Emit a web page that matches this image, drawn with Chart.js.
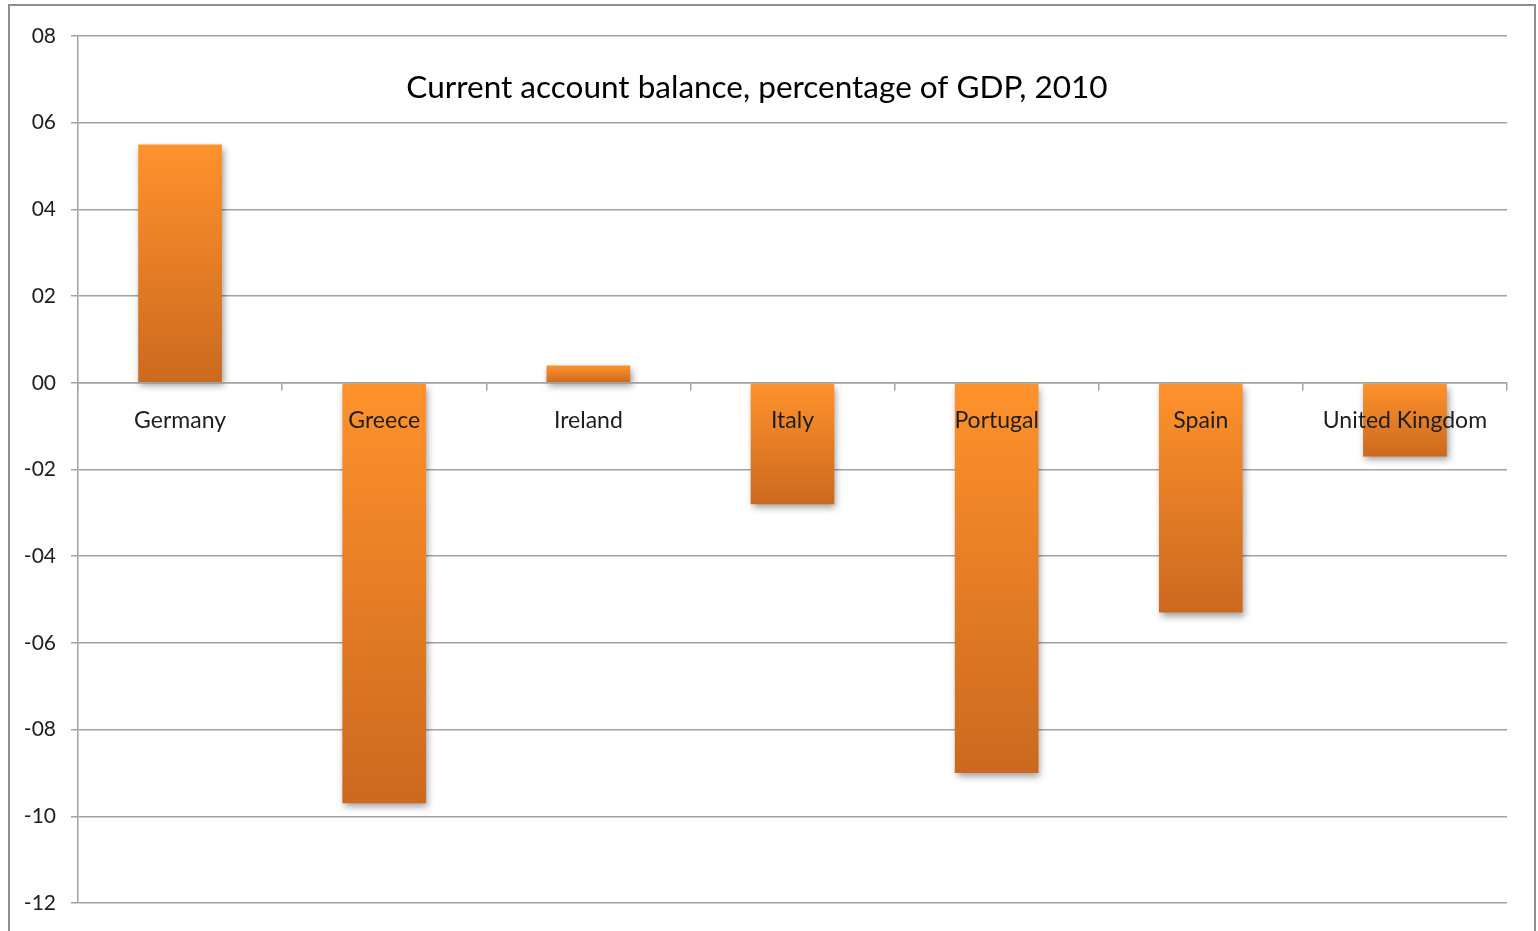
<!DOCTYPE html>
<html>
<head>
<meta charset="utf-8">
<script src="https://cdn.jsdelivr.net/npm/chart.js@4.4.1/dist/chart.umd.min.js"></script>
<style>
  html, body { margin: 0; padding: 0; background: #fff; }
  #wrap { width: 1538px; height: 931px; }
</style>
</head>
<body>
<div id="wrap"><canvas id="chartSaldo"></canvas></div>
<script>
const paises = ['Germany', 'Greece', 'Ireland', 'Italy', 'Portugal', 'Spain', 'United Kingdom'];
const saldoPib = [5.5, -9.7, 0.4, -2.8, -9.0, -5.3, -1.7];
const eixoMin = -12;
const eixoMax = 8;
const eixoPasso = 2;

const titulo = 'Current account balance, percentage of GDP, 2010';
const fonte = 'Lato, "Open Sans", sans-serif';
const cinza = '#a2a2a2';

// "08", "00", "-02" ...
const fmtEixo = v => (v < 0 ? '-' : '') + String(Math.abs(v)).padStart(2, '0');

// gradiente vertical em cada barra, claro em cima e escuro embaixo
function corBarra(c) {
  const chart = c.chart;
  if (c.type !== 'data' || !chart.chartArea) return '#ef8a2c';
  const y = chart.scales.y;
  const v = c.raw;
  const y0 = y.getPixelForValue(Math.max(v, 0));
  const y1 = y.getPixelForValue(Math.min(v, 0));
  const g = chart.ctx.createLinearGradient(0, y0, 0, y1);
  g.addColorStop(0, '#ff922c');
  g.addColorStop(1, '#cb691f');
  return g;
}

const moldura = {
  id: 'moldura',
  beforeDraw(chart) {
    const ctx = chart.ctx;
    ctx.save();
    ctx.fillStyle = '#fff';
    ctx.fillRect(0, 0, chart.width, chart.height);
    ctx.strokeStyle = '#8e8e8e';
    ctx.lineWidth = 2;
    ctx.strokeRect(9, 5, 1526, 960);
    ctx.restore();
  },
  afterDraw(chart) {
    const ctx = chart.ctx;
    ctx.save();
    ctx.fillStyle = '#000';
    ctx.font = '31.5px ' + fonte;
    ctx.textAlign = 'center';
    ctx.textBaseline = 'alphabetic';
    ctx.fillText(titulo, 757, 98);
    ctx.restore();
  }
};

const sombra = {
  id: 'sombra',
  beforeDatasetsDraw(chart) {
    const ctx = chart.ctx;
    ctx.save();
    ctx.shadowColor = 'rgba(0,0,0,0.38)';
    ctx.shadowBlur = 7;
    ctx.shadowOffsetX = 2;
    ctx.shadowOffsetY = 4;
  },
  afterDatasetsDraw(chart) {
    chart.ctx.restore();
  }
};

new Chart(document.getElementById('chartSaldo'), {
  type: 'bar',
  data: {
    labels: paises,
    datasets: [{
      data: saldoPib,
      backgroundColor: corBarra,
      borderWidth: 0,
      barPercentage: 0.41,
      categoryPercentage: 1
    }]
  },
  options: {
    responsive: true,
    maintainAspectRatio: false,
    animation: false,
    layout: { padding: { left: 0, top: 36, right: 31, bottom: 28 } },
    plugins: {
      legend: { display: false },
      tooltip: { enabled: false }
    },
    scales: {
      x: {
        position: { y: 0 },
        offset: true,
        grid: { offset: true, drawOnChartArea: false, tickLength: 7, color: cinza, lineWidth: 1.5 },
        border: { color: cinza, width: 1.5, z: 1 },
        ticks: { z: 1, padding: 17, color: '#1e1e1e', font: { family: fonte, size: 23 }, maxRotation: 0, autoSkip: false },
        afterFit: s => { s.height = 0; }
      },
      y: {
        min: eixoMin,
        max: eixoMax,
        ticks: {
          stepSize: eixoPasso,
          callback: fmtEixo,
          color: '#1e1e1e',
          padding: 15,
          font: { family: fonte, size: 21 }
        },
        grid: { color: cinza, lineWidth: 1.5, tickLength: 7 },
        border: { color: cinza, width: 1.5 },
        afterFit: s => { s.width = 78; }
      }
    }
  },
  plugins: [moldura, sombra]
});
</script>
</body>
</html>
